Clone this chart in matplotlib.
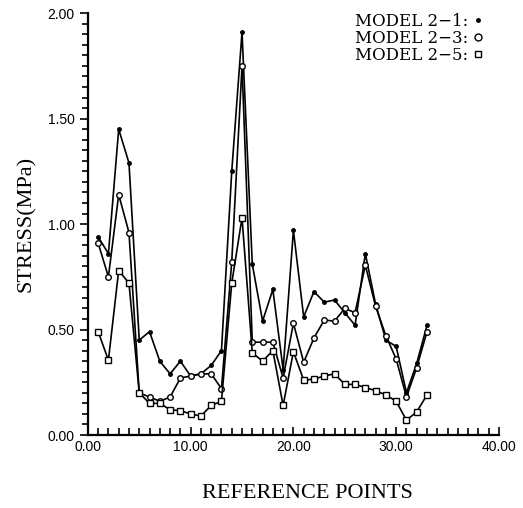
import matplotlib
matplotlib.use('Agg')
import matplotlib.pyplot as plt
from matplotlib.lines import Line2D
from matplotlib.ticker import MultipleLocator, FormatStrFormatter

# reference points 1..33
points = list(range(1, 34))

model_2_1 = [0.94, 0.86, 1.45, 1.29, 0.45, 0.49, 0.35, 0.29, 0.35, 0.28,
             0.29, 0.33, 0.40, 1.25, 1.91, 0.81, 0.54, 0.69, 0.31, 0.97,
             0.56, 0.68, 0.63, 0.64, 0.58, 0.52, 0.86, 0.62, 0.45, 0.42,
             0.20, 0.34, 0.52]
model_2_3 = [0.91, 0.75, 1.14, 0.96, 0.20, 0.18, 0.16, 0.18, 0.27, 0.28,
             0.29, 0.29, 0.22, 0.82, 1.75, 0.44, 0.44, 0.44, 0.27, 0.53,
             0.345, 0.46, 0.545, 0.54, 0.60, 0.58, 0.805, 0.61, 0.47, 0.36,
             0.18, 0.32, 0.49]
model_2_5 = [0.49, 0.355, 0.78, 0.72, 0.20, 0.15, 0.15, 0.12, 0.115, 0.10,
             0.09, 0.14, 0.16, 0.72, 1.03, 0.39, 0.35, 0.40, 0.14, 0.395,
             0.26, 0.265, 0.28, 0.29, 0.24, 0.24, 0.225, 0.21, 0.19, 0.16,
             0.07, 0.11, 0.19]

serif = 'Liberation Serif'
sans = 'Liberation Sans'

fig = plt.figure(figsize=(5.23, 5.08), dpi=100)
ax = fig.add_axes([0.168, 0.1437, 0.786, 0.8303])

lw = 1.2
ax.plot(points, model_2_1, color='black', lw=lw, marker='o', ms=2.5,
        mfc='black', mec='black')
ax.plot(points, model_2_3, color='black', lw=lw, marker='o', ms=4,
        mfc='white', mec='black', mew=1.0)
ax.plot(points, model_2_5, color='black', lw=lw, marker='s', ms=3.8,
        mfc='white', mec='black', mew=1.0)

ax.set_xlim(0, 40)
ax.set_ylim(0, 2.0)
ax.spines['top'].set_visible(False)
ax.spines['right'].set_visible(False)
ax.spines['left'].set_linewidth(1.6)
ax.spines['bottom'].set_linewidth(1.6)

ax.xaxis.set_major_locator(MultipleLocator(10))
ax.xaxis.set_minor_locator(MultipleLocator(1))
ax.yaxis.set_major_locator(MultipleLocator(0.5))
ax.yaxis.set_minor_locator(MultipleLocator(0.05))
ax.xaxis.set_major_formatter(FormatStrFormatter('%.2f'))
ax.yaxis.set_major_formatter(FormatStrFormatter('%.2f'))
ax.tick_params(axis='x', which='both', direction='in', width=1.2)
ax.tick_params(axis='x', which='major', length=6)
ax.tick_params(axis='x', which='minor', length=5)
ax.tick_params(axis='y', which='both', direction='out', width=1.2)
ax.tick_params(axis='y', which='major', length=6)
ax.tick_params(axis='y', which='minor', length=4)
for lab in ax.get_xticklabels() + ax.get_yticklabels():
    lab.set_fontfamily(sans)
    lab.set_fontsize(10)

ax.set_xlabel('REFERENCE POINTS', fontfamily=serif, fontsize=16, labelpad=20)
ax.xaxis.set_label_coords(0.533, -0.115)
ax.set_ylabel('STRESS(MPa)', fontfamily=serif, fontsize=16, labelpad=8)

handles = [
    Line2D([], [], ls='none', marker='o', ms=2.5, mfc='black', mec='black'),
    Line2D([], [], ls='none', marker='o', ms=5, mfc='white', mec='black'),
    Line2D([], [], ls='none', marker='s', ms=5, mfc='white', mec='black'),
]
labels = ['MODEL 2\u22121:', 'MODEL 2\u22123:', 'MODEL 2\u22125:']
ax.legend(handles, labels, loc='upper right', bbox_to_anchor=(0.985, 1.025),
          frameon=False, markerfirst=False, handlelength=0.6,
          handletextpad=0.3, labelspacing=0.0, borderaxespad=0.2,
          prop={'family': 'DejaVu Serif', 'size': 12})

fig.savefig('out.png', dpi=100)
